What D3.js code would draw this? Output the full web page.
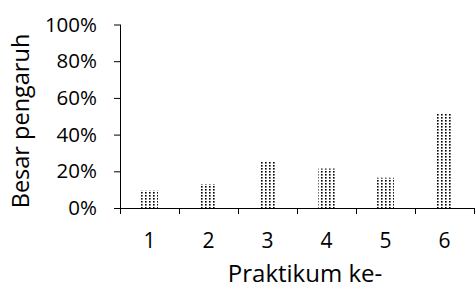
<!DOCTYPE html>
<html><head><meta charset="utf-8">
<script src="https://cdn.jsdelivr.net/npm/d3@7"></script>
<style>body{margin:0;background:#fff}svg{display:block}</style>
</head><body>
<script>
const categories = ["1","2","3","4","5","6"];
const values = [0.095, 0.13, 0.255, 0.215, 0.165, 0.515];
const yTicks = [0, 0.2, 0.4, 0.6, 0.8, 1.0];
const xTitle = "Praktikum ke-";
const yTitle = "Besar pengaruh";

const W = 475, H = 289;
const font = "'Open Sans', Lato, sans-serif";
const svg = d3.select("body").append("svg").attr("width", W).attr("height", H);

const defs = svg.append("defs");
const pat = defs.append("pattern").attr("id","dots").attr("patternUnits","userSpaceOnUse")
  .attr("width",4).attr("height",3);
pat.append("rect").attr("width",4).attr("height",3).attr("fill","#fff");
pat.append("rect").attr("x",1).attr("y",0).attr("width",1.6).attr("height",1.6).attr("fill","#000");

const x = d3.scaleBand().domain(categories).range([120, 474]).paddingInner(0).paddingOuter(0);
const y = d3.scaleLinear().domain([0,1]).range([208, 24.5]);

const barW = x.bandwidth()/3.5;
svg.selectAll("rect.bar").data(values).join("rect").attr("class","bar")
  .attr("x",(d,i)=>x(categories[i]) + x.bandwidth()/2 - barW/2)
  .attr("y",d=>y(d)).attr("width",barW).attr("height",d=>y(0)-y(d))
  .attr("fill","url(#dots)");

const yAxis = svg.append("g").attr("transform","translate(120,0)")
  .call(d3.axisLeft(y).tickValues(yTicks).tickFormat(d3.format(".0%")).tickSize(6).tickPadding(17));
yAxis.select(".domain").attr("d","M0.5,"+y(1)+"V"+y(0)).attr("stroke","#000");
yAxis.selectAll("line").attr("stroke","#000");
yAxis.selectAll("text").attr("font-family",font).attr("font-size",20.5).attr("fill","#000");

const xAxis = svg.append("g").attr("transform","translate(0,"+y(0)+")")
  .call(d3.axisBottom(x).tickSize(0).tickPadding(25));
xAxis.select(".domain").attr("d","M120,0.5H474").attr("stroke","#000");
xAxis.selectAll("text").attr("font-family",font).attr("font-size",21).attr("fill","#000");
const bounds = categories.map(c=>x(c)).concat([x.range()[1]]);
svg.append("g").selectAll("line").data(bounds).join("line")
  .attr("x1",d=>Math.round(d)+0.5).attr("x2",d=>Math.round(d)+0.5)
  .attr("y1",y(0)).attr("y2",y(0)+6).attr("stroke","#000");

svg.append("text").attr("x",305).attr("y",282)
  .attr("text-anchor","middle").attr("font-family",font).attr("font-size",24).attr("fill","#000").text(xTitle);
svg.append("text").attr("transform","translate(29,121) rotate(-90)")
  .attr("text-anchor","middle").attr("font-family",font).attr("font-size",23.5).attr("fill","#000").text(yTitle);
</script>
</body></html>
